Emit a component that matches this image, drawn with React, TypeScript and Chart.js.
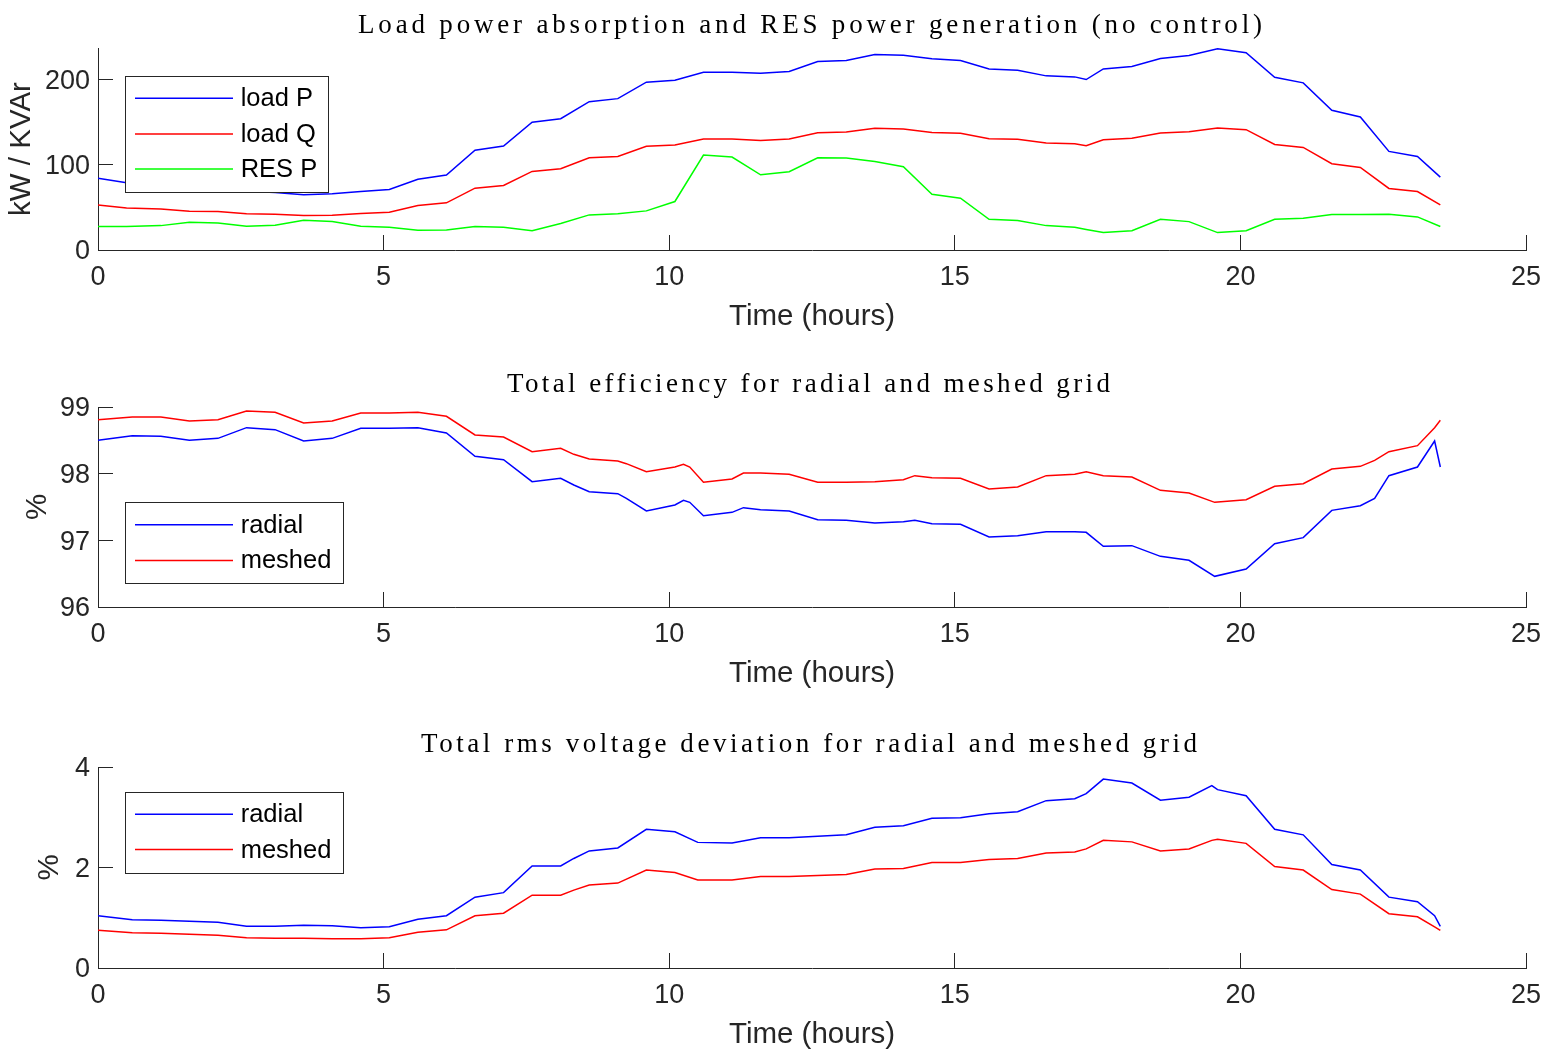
import React, { useEffect, useRef } from "react";
import { Chart, registerables } from "chart.js";

Chart.register(...registerables);

// ---------- data ----------
// Panel 1: load / RES power (kW / kVAr)
const TIME_POWER = [0, 0.5, 1.1, 1.6, 2.1, 2.6, 3.1, 3.6, 4.1, 4.6, 5.1, 5.6, 6.1, 6.6, 7.1, 7.6, 8.1, 8.6, 9.1, 9.6, 10.1, 10.6, 11.1, 11.6, 12.1, 12.6, 13.1, 13.6, 14.1, 14.6, 15.1, 15.6, 16.1, 16.6, 17.1, 17.3, 17.6, 18.1, 18.6, 19.1, 19.6, 20.1, 20.6, 21.1, 21.6, 22.1, 22.6, 23.1, 23.5];
const LOAD_P = [84.3, 79, 77, 74, 71, 69, 67.5, 64.7, 65.9, 68.6, 71, 83, 88, 117, 122, 150, 154, 174, 177.6, 196.9, 199.2, 208.6, 208.6, 207.5, 209.4, 221.2, 222.4, 229.4, 228.6, 224.3, 222.4, 212.5, 211, 204.3, 203.1, 200, 212.5, 215.3, 224.7, 228.2, 236, 231.4, 202.7, 196.1, 163.9, 156.1, 115.7, 109.8, 85.5];
const LOAD_Q = [52.9, 49.4, 48.2, 45.5, 45.1, 42.4, 42, 40.4, 40.8, 42.7, 44.3, 52.2, 55.3, 72.5, 75.7, 92.2, 95.3, 108.2, 109.8, 121.6, 123.1, 130.2, 130.2, 128.6, 130.2, 137.6, 138.4, 142.7, 142, 138, 136.9, 130.6, 129.8, 125.5, 124.7, 122.4, 129.4, 131, 137.3, 138.8, 143.1, 141.2, 123.9, 120.4, 101.2, 96.9, 72.2, 68.6, 52.9];
const RES_P = [27.5, 27.5, 28.6, 32.5, 31.8, 27.8, 29, 34.9, 33.3, 27.8, 26.7, 23.1, 23.5, 27.5, 26.7, 22.7, 31, 41.2, 42.4, 45.9, 56.9, 111.4, 109, 88.2, 91.8, 108.2, 107.8, 103.9, 97.6, 65.5, 60.8, 36.1, 34.5, 28.6, 26.7, 24, 20.4, 22.7, 36.1, 33.3, 20.4, 22.7, 36.1, 37.3, 41.6, 41.6, 42, 38.8, 27.5];

// Panel 2: total efficiency (%)
const TIME_EFF = [0, 0.6, 1.1, 1.6, 2.1, 2.6, 3.1, 3.6, 4.1, 4.6, 5.1, 5.6, 6.1, 6.6, 7.1, 7.6, 8.1, 8.33, 8.6, 9.1, 9.25, 9.6, 10.1, 10.25, 10.36, 10.6, 11.1, 11.3, 11.6, 12.1, 12.6, 13.1, 13.6, 14.1, 14.3, 14.6, 15.1, 15.6, 16.1, 16.6, 17.1, 17.3, 17.6, 18.1, 18.6, 19.1, 19.55, 20.1, 20.6, 21.1, 21.6, 22.1, 22.35, 22.6, 23.1, 23.4, 23.5];
const EFF_RADIAL = [98.5, 98.57, 98.56, 98.5, 98.53, 98.69, 98.66, 98.49, 98.53, 98.68, 98.68, 98.69, 98.61, 98.26, 98.21, 97.88, 97.93, 97.83, 97.73, 97.7, 97.63, 97.44, 97.53, 97.6, 97.57, 97.37, 97.42, 97.49, 97.46, 97.44, 97.31, 97.3, 97.26, 97.28, 97.3, 97.25, 97.24, 97.05, 97.07, 97.13, 97.13, 97.12, 96.91, 96.92, 96.76, 96.7, 96.46, 96.57, 96.95, 97.04, 97.45, 97.52, 97.63, 97.97, 98.1, 98.49, 98.1];
const EFF_MESHED = [98.81, 98.85, 98.85, 98.79, 98.81, 98.94, 98.92, 98.76, 98.79, 98.91, 98.91, 98.92, 98.86, 98.58, 98.55, 98.33, 98.38, 98.29, 98.22, 98.19, 98.15, 98.03, 98.1, 98.14, 98.1, 97.87, 97.92, 98.01, 98.01, 97.99, 97.87, 97.87, 97.88, 97.91, 97.97, 97.94, 97.93, 97.77, 97.8, 97.97, 97.99, 98.03, 97.97, 97.95, 97.75, 97.71, 97.57, 97.61, 97.81, 97.85, 98.07, 98.11, 98.2, 98.33, 98.42, 98.69, 98.8];

// Panel 3: total rms voltage deviation (%)
const TIME_VDEV = [0, 0.6, 1.1, 1.6, 2.1, 2.6, 3.1, 3.6, 4.1, 4.6, 5.1, 5.6, 6.1, 6.6, 7.1, 7.6, 8.1, 8.33, 8.6, 9.1, 9.6, 10.1, 10.5, 11.1, 11.6, 12.1, 12.6, 13.1, 13.6, 14.1, 14.6, 15.1, 15.6, 16.1, 16.6, 17.1, 17.3, 17.6, 18.1, 18.6, 19.1, 19.5, 19.6, 20.1, 20.6, 21.1, 21.6, 22.1, 22.6, 23.1, 23.4, 23.5];
const VDEV_RADIAL = [1.04, 0.96, 0.95, 0.93, 0.91, 0.83, 0.83, 0.85, 0.84, 0.8, 0.82, 0.97, 1.04, 1.41, 1.5, 2.03, 2.03, 2.18, 2.33, 2.39, 2.76, 2.71, 2.5, 2.49, 2.59, 2.59, 2.62, 2.65, 2.8, 2.83, 2.98, 2.99, 3.07, 3.11, 3.33, 3.37, 3.47, 3.76, 3.68, 3.34, 3.4, 3.63, 3.55, 3.43, 2.76, 2.65, 2.06, 1.95, 1.41, 1.32, 1.04, 0.83];
const VDEV_MESHED = [0.75, 0.7, 0.69, 0.67, 0.65, 0.6, 0.59, 0.59, 0.58, 0.58, 0.6, 0.71, 0.76, 1.04, 1.09, 1.45, 1.45, 1.55, 1.65, 1.69, 1.95, 1.9, 1.75, 1.75, 1.82, 1.82, 1.84, 1.86, 1.97, 1.98, 2.1, 2.1, 2.16, 2.18, 2.29, 2.31, 2.37, 2.54, 2.51, 2.33, 2.37, 2.54, 2.56, 2.48, 2.02, 1.95, 1.56, 1.47, 1.08, 1.02, 0.82, 0.75];

const X_RANGE = [0, 25];
const X_STEP = 5;
const TITLES = [
  "Load power absorption and RES power generation (no control)",
  "Total efficiency for radial and meshed grid",
  "Total rms voltage deviation for radial and meshed grid",
];
const Y_LABELS = ["kW / KVAr", "%", "%"];
const X_LABEL = "Time (hours)";

// ---------- styling ----------
const AXIS_COLOR = "#262626";
const SANS = "Liberation Sans";
const SERIF = "Liberation Serif";
const TICK_SIZE = 27;
const LABEL_SIZE = 29.5;
const LEGEND_SIZE = 25.5;
const TITLE_SIZE = 27;
const PLOT_LEFT = 98;
const PLOT_RIGHT_PAD = 30;

type Series = { label: string; color: string; xs: number[]; ys: number[] };
type LegendSpec = { corner: "nw" | "sw"; dx: number; dy: number; w: number; h: number; rows: number[] };
type Panel = {
  top: number;
  height: number;
  areaTop: number;
  areaBottom: number;
  title: string;
  titleWidth: number;
  titleCenter: number;
  yLabel: string;
  yLabelPad: number;
  yMin: number;
  yMax: number;
  yStep: number;
  series: Series[];
  legend: LegendSpec;
};

const PANELS: Panel[] = [
  {
    top: 0, height: 355, areaTop: 48, areaBottom: 250,
    title: TITLES[0], titleWidth: 904, titleCenter: 810,
    yLabel: Y_LABELS[0], yLabelPad: 3.8,
    yMin: 0, yMax: 237, yStep: 100,
    series: [
      { label: "load P", color: "#0000ff", xs: TIME_POWER, ys: LOAD_P },
      { label: "load Q", color: "#ff0000", xs: TIME_POWER, ys: LOAD_Q },
      { label: "RES P", color: "#00ff00", xs: TIME_POWER, ys: RES_P },
    ],
    legend: { corner: "nw", dx: 27, dy: 28, w: 203, h: 116, rows: [22.3, 58, 93] },
  },
  {
    top: 355, height: 360, areaTop: 407, areaBottom: 607,
    title: TITLES[1], titleWidth: 603, titleCenter: 808.5,
    yLabel: Y_LABELS[1], yLabelPad: 20.3,
    yMin: 96, yMax: 99, yStep: 1,
    series: [
      { label: "radial", color: "#0000ff", xs: TIME_EFF, ys: EFF_RADIAL },
      { label: "meshed", color: "#ff0000", xs: TIME_EFF, ys: EFF_MESHED },
    ],
    legend: { corner: "sw", dx: 27, dy: 24, w: 218, h: 81, rows: [22.7, 58.4] },
  },
  {
    top: 715, height: 345, areaTop: 767, areaBottom: 968,
    title: TITLES[2], titleWidth: 776, titleCenter: 809,
    yLabel: Y_LABELS[2], yLabelPad: 32.3,
    yMin: 0, yMax: 4, yStep: 2,
    series: [
      { label: "radial", color: "#0000ff", xs: TIME_VDEV, ys: VDEV_RADIAL },
      { label: "meshed", color: "#ff0000", xs: TIME_VDEV, ys: VDEV_MESHED },
    ],
    legend: { corner: "nw", dx: 27, dy: 25, w: 218, h: 81, rows: [22.3, 57.6] },
  },
];

function decorPlugin(p: Panel) {
  return {
    id: "decor",
    afterDraw(chart: any) {
      const ctx = chart.ctx as CanvasRenderingContext2D;
      const a = chart.chartArea;
      // title
      ctx.save();
      ctx.font = `${TITLE_SIZE}px "${SERIF}"`;
      ctx.fillStyle = "#000";
      ctx.textAlign = "left";
      ctx.textBaseline = "alphabetic";
      (ctx as any).letterSpacing = "0px";
      const w0 = ctx.measureText(p.title).width;
      const ls = Math.max(0, (p.titleWidth - w0) / Math.max(1, p.title.length - 1));
      (ctx as any).letterSpacing = `${ls}px`;
      ctx.fillText(p.title, p.titleCenter - p.titleWidth / 2, a.top - 15);
      (ctx as any).letterSpacing = "0px";
      ctx.restore();

      // legend
      const L = p.legend;
      const bx = Math.round(a.left + L.dx);
      const by = Math.round(L.corner === "nw" ? a.top + L.dy : a.bottom - L.dy - L.h);
      ctx.save();
      ctx.fillStyle = "#ffffff";
      ctx.fillRect(bx, by, L.w, L.h);
      ctx.strokeStyle = AXIS_COLOR;
      ctx.lineWidth = 1;
      ctx.strokeRect(bx + 0.5, by + 0.5, L.w, L.h);
      p.series.forEach((s, i) => {
        const ry = by + L.rows[i];
        ctx.strokeStyle = s.color;
        ctx.lineWidth = 1.5;
        ctx.beginPath();
        ctx.moveTo(bx + 10, ry);
        ctx.lineTo(bx + 108, ry);
        ctx.stroke();
        ctx.fillStyle = "#000";
        ctx.font = `${LEGEND_SIZE}px "${SANS}"`;
        ctx.textAlign = "left";
        ctx.textBaseline = "middle";
        ctx.fillText(s.label, bx + 115.7, ry + 1);
      });
      ctx.restore();
    },
  };
}

function keepSteps(step: number) {
  return (s: any) => {
    s.ticks = s.ticks.filter((t: any) => Math.abs(t.value / step - Math.round(t.value / step)) < 1e-6);
  };
}

function PanelChart({ p }: { p: Panel }) {
  const ref = useRef<HTMLCanvasElement | null>(null);
  useEffect(() => {
    if (!ref.current) return;
    const xAxisH = p.top + p.height - p.areaBottom;
    const xTitlePad = xAxisH - 67 - (LABEL_SIZE * 1.2) / 2;
    const chart = new Chart(ref.current, {
      type: "line",
      data: {
        datasets: p.series.map((s) => ({
          label: s.label,
          data: s.xs.map((x, i) => ({ x, y: s.ys[i] })),
          borderColor: s.color,
          backgroundColor: s.color,
          borderWidth: 1.5,
          pointRadius: 0,
          pointHoverRadius: 0,
          tension: 0,
          fill: false,
        })),
      },
      options: {
        animation: false,
        responsive: true,
        maintainAspectRatio: false,
        events: [],
        layout: { padding: { top: p.areaTop - p.top, right: PLOT_RIGHT_PAD, bottom: 0, left: 0 } },
        plugins: {
          legend: { display: false },
          title: { display: false },
          tooltip: { enabled: false },
        },
        scales: {
          x: {
            type: "linear",
            min: X_RANGE[0],
            max: X_RANGE[1],
            bounds: "data",
            afterBuildTicks: keepSteps(X_STEP),
            ticks: {
              stepSize: X_STEP,
              includeBounds: false,
              padding: 26,
              color: AXIS_COLOR,
              font: { family: SANS, size: TICK_SIZE },
              maxRotation: 0,
              autoSkip: false,
            },
            grid: { drawOnChartArea: false, drawTicks: true, tickLength: -15, color: AXIS_COLOR, lineWidth: 1 },
            border: { display: true, color: AXIS_COLOR, width: 1 },
            title: {
              display: true,
              text: X_LABEL,
              color: AXIS_COLOR,
              font: { family: SANS, size: LABEL_SIZE },
              padding: { top: 0, bottom: xTitlePad },
            },
            afterFit: (s: any) => {
              s.height = xAxisH;
              s.paddingLeft = 0;
              s.paddingRight = 0;
            },
          } as any,
          y: {
            type: "linear",
            min: p.yMin,
            max: p.yMax,
            bounds: "data",
            afterBuildTicks: keepSteps(p.yStep),
            ticks: {
              stepSize: p.yStep,
              includeBounds: false,
              padding: 23,
              labelOffset: 2,
              color: AXIS_COLOR,
              font: { family: SANS, size: TICK_SIZE },
              autoSkip: false,
            },
            grid: { drawOnChartArea: false, drawTicks: true, tickLength: -15, color: AXIS_COLOR, lineWidth: 1 },
            border: { display: true, color: AXIS_COLOR, width: 1 },
            title: {
              display: true,
              text: p.yLabel,
              color: AXIS_COLOR,
              font: { family: SANS, size: LABEL_SIZE },
              padding: { top: p.yLabelPad, bottom: 0 },
            },
            afterFit: (s: any) => {
              s.width = PLOT_LEFT;
              s.paddingTop = 0;
              s.paddingBottom = 0;
            },
          } as any,
        },
      },
      plugins: [decorPlugin(p) as any],
    });
    return () => chart.destroy();
  }, [p]);

  return (
    <div style={{ position: "absolute", left: 0, top: p.top, width: 1556, height: p.height }}>
      <canvas ref={ref} />
    </div>
  );
}

export default function App() {
  return (
    <div style={{ position: "absolute", left: 0, top: 0, width: 1556, height: 1060, background: "#ffffff", overflow: "hidden" }}>
      {PANELS.map((p, i) => (
        <PanelChart key={i} p={p} />
      ))}
    </div>
  );
}
